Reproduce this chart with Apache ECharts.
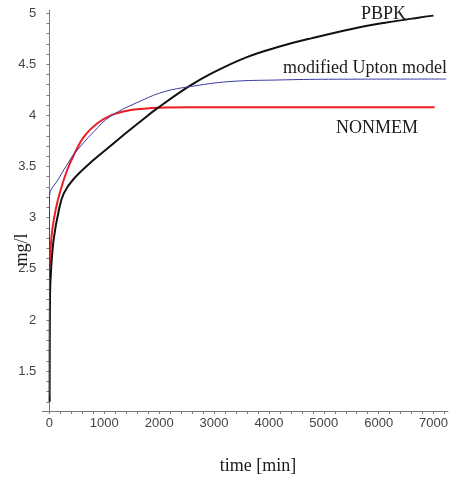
<!DOCTYPE html>
<html>
<head>
<meta charset="utf-8">
<script src="https://cdn.jsdelivr.net/npm/echarts@6/dist/echarts.min.js"></script>
<style>
html,body{margin:0;padding:0;background:#fff;}
#c{width:451px;height:479px;}
</style>
</head>
<body>
<div id="c"></div>
<script>
// ---- data (time [min], mg/l) ----
var pbpk = [[3,1.2],[10,2.24],[30,2.5],[80,2.8],[170,3.07],[263,3.24],[444,3.38],[807,3.565],[1110,3.7],[1411,3.835],[1714,3.965],[1950,4.063],[2548,4.285],[2971,4.415],[3576,4.565],[4180,4.67],[4785,4.755],[5510,4.845],[6115,4.905],[6720,4.955],[7000,4.975]];
var nonmem = [[8,2.52],[20,2.7],[51,2.88],[112,3.075],[203,3.27],[323,3.466],[444,3.613],[626,3.79],[867,3.92],[1139,4.004],[1411,4.046],[1714,4.065],[2000,4.075],[2548,4.079],[7020,4.079]];
var upton = [[0,1.26],[1,3.205],[172,3.385],[354,3.547],[444,3.62],[807,3.84],[1110,3.99],[1700,4.15],[2094,4.232],[2548,4.28],[3273,4.33],[4180,4.346],[5087,4.353],[7230,4.355]];
var seriesNames = ['PBPK', 'modified Upton model', 'NONMEM'];
var xTickLabels = [0,1000,2000,3000,4000,5000,6000,7000];
var xTicks = [0,200,400,600,800,1000,1200,1400,1600,1800,2000,2200,2400,2600,2800,3000,3200,3400,3600,3800,4000,4200,4400,4600,4800,5000,5200,5400,5600,5800,6000,6200,6400,6600,6800,7000,7200];
var yTickLabels = [1.5,2,2.5,3,3.5,4,4.5,5];
var yTicks = [1.2,1.3,1.4,1.5,1.6,1.7,1.8,1.9,2,2.1,2.2,2.3,2.4,2.5,2.6,2.7,2.8,2.9,3,3.1,3.2,3.3,3.4,3.5,3.6,3.7,3.8,3.9,4,4.1,4.2,4.3,4.4,4.5,4.6,4.7,4.8,4.9,5];
var xTitle = 'time [min]';
var yTitle = 'mg/l';

var chart = echarts.init(document.getElementById('c'), null, {renderer: 'canvas'});
var axisColor = '#7a7a7a';
var labelStyle = {color: '#444', fontFamily: 'Liberation Sans', fontSize: 13};
var serif = 'Liberation Serif';

chart.setOption({
  animation: false,
  backgroundColor: '#fff',
  grid: {left: 42.3, right: 1, top: 10, bottom: 68, containLabel: false},
  xAxis: {
    type: 'value', min: -130.6, max: 7263,
    axisLine: {show: true, lineStyle: {color: axisColor, width: 1}},
    axisTick: {show: true, customValues: xTicks, length: 3, lineStyle: {color: axisColor}},
    axisLabel: Object.assign({show: true, customValues: xTickLabels, margin: 6, formatter: function(v){return String(v);}}, labelStyle),
    splitLine: {show: false}
  },
  yAxis: {
    type: 'value', min: 1.11, max: 5.03,
    axisLine: {show: true, onZero: true, lineStyle: {color: axisColor, width: 1}},
    axisTick: {show: true, customValues: yTicks, length: 3, lineStyle: {color: axisColor}},
    axisLabel: Object.assign({show: true, customValues: yTickLabels, margin: 6, formatter: function(v){return String(v);}}, labelStyle),
    splitLine: {show: false}
  },
  series: [{
    name: seriesNames[0], type: 'line', data: pbpk, showSymbol: false,
    smooth: 0.4,
    lineStyle: {color: '#111', width: 2}, z: 3
  }, {
    name: seriesNames[2], type: 'line', data: nonmem, showSymbol: false,
    smooth: 0.4,
    lineStyle: {color: '#ee1c24', width: 2}, z: 2
  }, {
    name: seriesNames[1], type: 'line', data: upton, showSymbol: false,
    smooth: 0.4,
    lineStyle: {color: '#3b3ba6', width: 1}, z: 4
  }],
  graphic: [
    {type: 'text', left: 361, top: 5, style: {text: seriesNames[0], font: '18px ' + serif, fill: '#1a1a1a'}},
    {type: 'text', left: 283, top: 59, style: {text: seriesNames[1], font: '18px ' + serif, fill: '#1a1a1a'}},
    {type: 'text', left: 336, top: 119, style: {text: seriesNames[2], font: '18px ' + serif, fill: '#1a1a1a'}},
    {type: 'text', x: 258, y: 466, style: {text: xTitle, font: '18px ' + serif, fill: '#1a1a1a', align: 'center', verticalAlign: 'middle'}},
    {type: 'text', x: 22, y: 250, rotation: Math.PI / 2, style: {text: yTitle, font: '18px ' + serif, fill: '#1a1a1a', align: 'center', verticalAlign: 'middle'}}
  ]
});
</script>
</body>
</html>
